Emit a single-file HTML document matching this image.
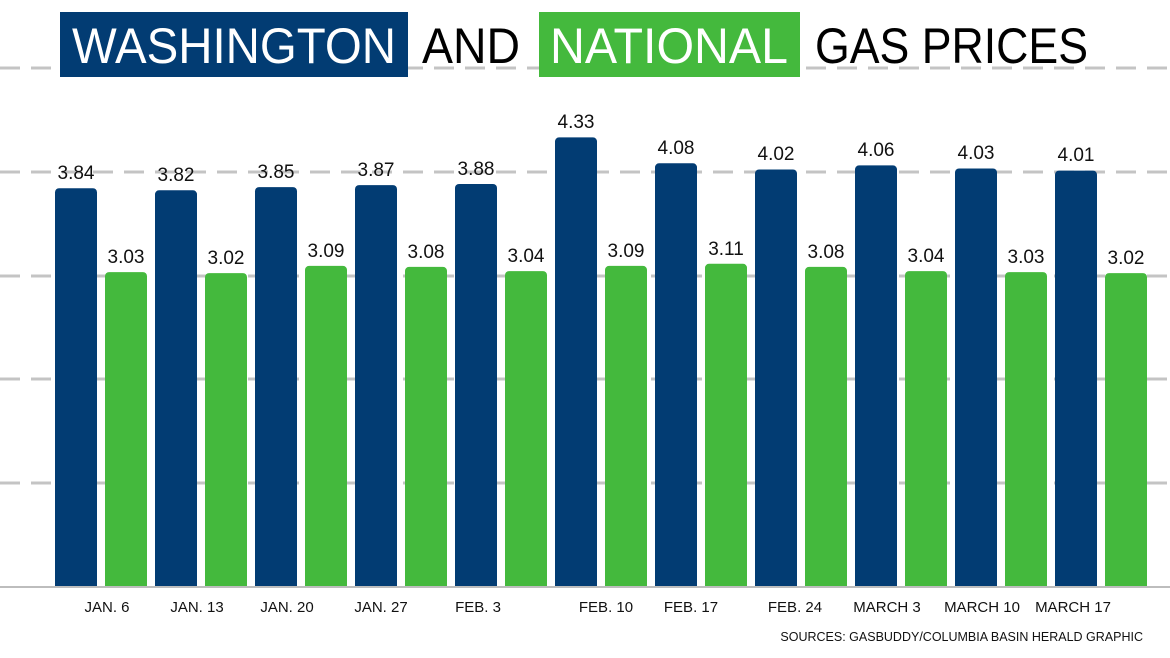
<!DOCTYPE html>
<html><head><meta charset="utf-8"><style>
html,body{margin:0;padding:0;background:#fff;}
svg{display:block;font-family:"Liberation Sans",sans-serif;}
</style></head><body>
<svg width="1170" height="658" viewBox="0 0 1170 658">
<g stroke="#c4c4c4" stroke-width="3" stroke-dasharray="20 11">
<line x1="0" y1="68" x2="1170" y2="68"/>
<line x1="0" y1="172" x2="1170" y2="172"/>
<line x1="0" y1="276" x2="1170" y2="276"/>
<line x1="0" y1="379" x2="1170" y2="379"/>
<line x1="0" y1="483" x2="1170" y2="483"/>
</g>
<rect x="60" y="12" width="348" height="65" fill="#023c73"/>
<rect x="539" y="12" width="261" height="65" fill="#44b93d"/>
<g font-size="50">
<text x="72" y="63" fill="#fff" textLength="324" lengthAdjust="spacingAndGlyphs">WASHINGTON</text>
<text x="422" y="63" fill="#000" textLength="98" lengthAdjust="spacingAndGlyphs">AND</text>
<text x="550" y="63" fill="#fff" textLength="238" lengthAdjust="spacingAndGlyphs">NATIONAL</text>
<text x="815" y="63" fill="#000" textLength="273" lengthAdjust="spacingAndGlyphs">GAS PRICES</text>
</g>
<g fill="#023c73">
<rect x="55" y="188.2" width="42" height="402" rx="4"/>
<rect x="155" y="190.3" width="42" height="400" rx="4"/>
<rect x="255" y="187.1" width="42" height="403" rx="4"/>
<rect x="355" y="185.1" width="42" height="405" rx="4"/>
<rect x="455" y="184.0" width="42" height="406" rx="4"/>
<rect x="555" y="137.4" width="42" height="453" rx="4"/>
<rect x="655" y="163.3" width="42" height="427" rx="4"/>
<rect x="755" y="169.5" width="42" height="421" rx="4"/>
<rect x="855" y="165.4" width="42" height="425" rx="4"/>
<rect x="955" y="168.5" width="42" height="422" rx="4"/>
<rect x="1055" y="170.6" width="42" height="420" rx="4"/>
</g>
<g fill="#44b93d">
<rect x="105" y="272.1" width="42" height="318" rx="4"/>
<rect x="205" y="273.1" width="42" height="317" rx="4"/>
<rect x="305" y="265.9" width="42" height="325" rx="4"/>
<rect x="405" y="266.9" width="42" height="324" rx="4"/>
<rect x="505" y="271.1" width="42" height="319" rx="4"/>
<rect x="605" y="265.9" width="42" height="325" rx="4"/>
<rect x="705" y="263.8" width="42" height="327" rx="4"/>
<rect x="805" y="266.9" width="42" height="324" rx="4"/>
<rect x="905" y="271.1" width="42" height="319" rx="4"/>
<rect x="1005" y="272.1" width="42" height="318" rx="4"/>
<rect x="1105" y="273.1" width="42" height="317" rx="4"/>
</g>
<rect x="0" y="587" width="1170" height="8" fill="#fff"/>
<line x1="0" y1="587" x2="1170" y2="587" stroke="#bdbdbd" stroke-width="2"/>
<g font-size="19" text-anchor="middle" fill="#111">
<text x="76" y="179">3.84</text>
<text x="176" y="181">3.82</text>
<text x="276" y="178">3.85</text>
<text x="376" y="176">3.87</text>
<text x="476" y="175">3.88</text>
<text x="576" y="128">4.33</text>
<text x="676" y="154">4.08</text>
<text x="776" y="160">4.02</text>
<text x="876" y="156">4.06</text>
<text x="976" y="159">4.03</text>
<text x="1076" y="161">4.01</text>
<text x="126" y="263">3.03</text>
<text x="226" y="264">3.02</text>
<text x="326" y="257">3.09</text>
<text x="426" y="258">3.08</text>
<text x="526" y="262">3.04</text>
<text x="626" y="257">3.09</text>
<text x="726" y="255">3.11</text>
<text x="826" y="258">3.08</text>
<text x="926" y="262">3.04</text>
<text x="1026" y="263">3.03</text>
<text x="1126" y="264">3.02</text>
</g>
<g font-size="15" text-anchor="middle" fill="#111">
<text x="107" y="612">JAN. 6</text>
<text x="197" y="612">JAN. 13</text>
<text x="287" y="612">JAN. 20</text>
<text x="381" y="612">JAN. 27</text>
<text x="478" y="612">FEB. 3</text>
<text x="606" y="612">FEB. 10</text>
<text x="691" y="612">FEB. 17</text>
<text x="795" y="612">FEB. 24</text>
<text x="887" y="612">MARCH 3</text>
<text x="982" y="612">MARCH 10</text>
<text x="1073" y="612">MARCH 17</text>
</g>
<text x="1143" y="641" font-size="12.5" text-anchor="end" fill="#111">SOURCES: GASBUDDY/COLUMBIA BASIN HERALD GRAPHIC</text>
</svg>
</body></html>
